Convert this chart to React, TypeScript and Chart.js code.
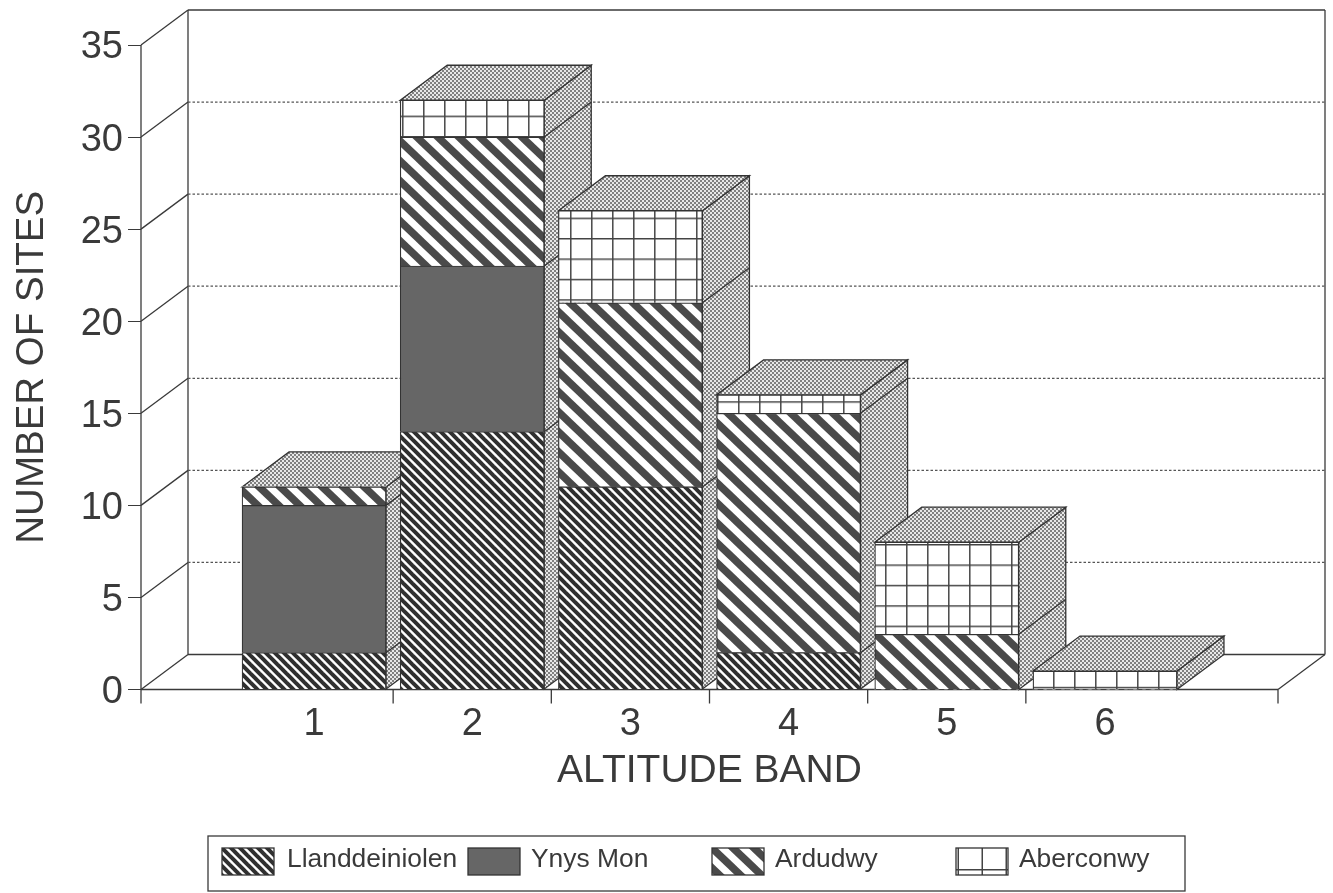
import React, { useEffect, useRef } from "react";
import { Chart, registerables } from "chart.js";

Chart.register(...registerables);

const bands = [1, 2, 3, 4, 5, 6];
const llanddeiniolen = [2, 14, 11, 2, 0, 0];
const ynysMon = [8, 9, 0, 0, 0, 0];
const ardudwy = [1, 7, 10, 13, 3, 0];
const aberconwy = [0, 2, 5, 1, 5, 1];
const seriesNames = ["Llanddeiniolen", "Ynys Mon", "Ardudwy", "Aberconwy"];
const bandEdges = [1.5, 2.5, 3.5, 4.5, 5.5];

const FONT = '"Liberation Sans", Arial, sans-serif';
const INK = "#3a3a3a";
const DX = 47;
const DY = 35;

function tile(w: number, h: number, draw: (c: CanvasRenderingContext2D) => void) {
  const cv = document.createElement("canvas");
  cv.width = w;
  cv.height = h;
  const c = cv.getContext("2d")!;
  c.fillStyle = "#fff";
  c.fillRect(0, 0, w, h);
  draw(c);
  return document.createElement("canvas").getContext("2d")!.createPattern(cv, "repeat")!;
}

function diagonal(w: number, h: number, lw: number, color: string) {
  return tile(w, h, (c) => {
    c.strokeStyle = color;
    c.lineWidth = lw;
    for (let k = -2; k <= 2; k++) {
      c.beginPath();
      c.moveTo(k * w - w, -h);
      c.lineTo(k * w + 2 * w, 2 * h);
      c.stroke();
    }
  });
}

function grid(w: number, h: number, ox: number, oy: number) {
  const p = tile(w, h, (c) => {
    c.fillStyle = "#444";
    c.fillRect(ox, 0, 1.5, h);
    c.fillRect(0, oy, w, 1.5);
  });
  p.setTransform(new DOMMatrix().scale(1, 20.4 / 21));
  return p;
}

function stipple() {
  return tile(4, 4, (c) => {
    c.fillStyle = "#e8e8e8";
    c.fillRect(0, 0, 4, 4);
    c.fillStyle = "#808080";
    c.fillRect(0, 0, 2, 2);
    c.fillRect(2, 2, 2, 2);
  });
}

export default function App() {
  const ref = useRef<HTMLCanvasElement>(null);

  useEffect(() => {
    const dense = diagonal(9, 9, 4, "#303030");
    const wide = diagonal(21, 20, 7.5, "#4a4a4a");
    const cells = grid(21, 21, 3, 14);
    const solid = "#666666";
    const dots = stipple();
    const fills: any[] = [dense, solid, wide, cells];

    const frame = {
      id: "frame3d",
      beforeDatasetsDraw(chart: any) {
        const { ctx, scales } = chart;
        const x = scales.x;
        const y = scales.y;
        const L = x.left;
        const R = x.right;
        const B = y.bottom;
        const T = y.top;
        ctx.save();
        ctx.strokeStyle = INK;
        ctx.lineWidth = 1.3;
        const seg = (a: number, b: number, c: number, d: number) => {
          ctx.beginPath();
          ctx.moveTo(a, b);
          ctx.lineTo(c, d);
          ctx.stroke();
        };
        seg(L, T, L, B);
        seg(L + DX, T - DY, L + DX, B - DY);
        seg(R + DX, T - DY, R + DX, B - DY);
        seg(L + DX, T - DY, R + DX, T - DY);
        seg(L + DX, B - DY, R + DX, B - DY);
        seg(L, B, R, B);
        seg(R, B, R + DX, B - DY);
        [x.min, ...bandEdges, x.max].forEach((v) => {
          const px = x.getPixelForValue(v);
          seg(px, B, px, B + 14);
        });
        y.ticks.forEach((t: any) => {
          const py = y.getPixelForValue(t.value);
          seg(L, py, L + DX, py - DY);
          if (t.value > 0 && t.value < 35) {
            ctx.save();
            ctx.setLineDash([2.5, 2]);
            ctx.strokeStyle = "#555";
            seg(L + DX, py - DY, R + DX, py - DY);
            ctx.restore();
          }
        });
        const metas = chart.getSortedVisibleDatasetMetas();
        bands.forEach((_, i) => {
          const els = metas.map((m: any) => m.data[i]);
          const vals = metas.map((m: any) => chart.data.datasets[m.index].data[i].y);
          const base = els[0].base;
          let top = base;
          els.forEach((e: any, k: number) => {
            if (vals[k] > 0) top = Math.min(top, e.y);
          });
          const half = els[0].width / 2;
          const xl = els[0].x - half;
          const xr = els[0].x + half;
          ctx.fillStyle = dots;
          ctx.strokeStyle = "#333";
          ctx.beginPath();
          ctx.moveTo(xr, base);
          ctx.lineTo(xr + DX, base - DY);
          ctx.lineTo(xr + DX, top - DY);
          ctx.lineTo(xr, top);
          ctx.closePath();
          ctx.fill();
          ctx.stroke();
          ctx.beginPath();
          ctx.moveTo(xl, top);
          ctx.lineTo(xl + DX, top - DY);
          ctx.lineTo(xr + DX, top - DY);
          ctx.lineTo(xr, top);
          ctx.closePath();
          ctx.fill();
          ctx.stroke();
          els.forEach((e: any, k: number) => {
            if (vals[k] > 0 && e.y > top) seg(xr, e.y, xr + DX, e.y - DY);
          });
        });
        ctx.restore();
      },
      afterDraw(chart: any) {
        const { ctx } = chart;
        ctx.save();
        ctx.strokeStyle = INK;
        ctx.lineWidth = 1.3;
        ctx.strokeRect(208, 836, 977, 55);
        ctx.font = `26.4px ${FONT}`;
        ctx.textBaseline = "middle";
        ctx.textAlign = "left";
        const swatches = [222, 468, 712, 956];
        const legendCells = tile(24, 24, (c) => {
          c.fillStyle = "#444";
          c.fillRect(1.5, 0, 1.5, 24);
          c.fillRect(0, 21, 24, 1.5);
        });
        seriesNames.forEach((name, i) => {
          const sx = swatches[i];
          ctx.save();
          ctx.translate(sx, 848);
          ctx.fillStyle = i === 3 ? legendCells : fills[i];
          ctx.fillRect(0, 0, 52, 27);
          ctx.strokeStyle = "#333";
          ctx.strokeRect(0, 0, 52, 27);
          ctx.restore();
          ctx.fillStyle = INK;
          ctx.fillText(name, sx + (i === 0 ? 65 : 63), 860);
        });
        ctx.restore();
      },
    };

    const seriesValues = [llanddeiniolen, ynysMon, ardudwy, aberconwy];
    const chart = new Chart(ref.current!, {
      type: "bar",
      data: {
        datasets: seriesNames.map((label, s) => ({
          label,
          data: bands.map((b, i) => ({ x: b, y: seriesValues[s][i] })),
          backgroundColor: fills[s],
          borderColor: "#333",
          borderWidth: (c: any) => (c.raw && c.raw.y > 0 ? 1.2 : 0),
          barThickness: 144,
          grouped: false,
        })),
      } as any,
      plugins: [frame],
      options: {
        animation: false,
        responsive: false,
        maintainAspectRatio: false,
        layout: { autoPadding: false, padding: { left: 0, top: 45, right: 55, bottom: 0 } },
        plugins: { legend: { display: false }, tooltip: { enabled: false } },
        scales: {
          x: {
            type: "linear",
            stacked: true,
            offset: false,
            min: -0.094,
            max: 7.094,
            grid: { display: false },
            border: { display: false },
            afterFit: (s: any) => {
              s.height = 203.5;
            },
            ticks: {
              stepSize: 1,
              includeBounds: false,
              maxRotation: 0,
              padding: 4,
              color: INK,
              font: { family: FONT, size: 38 },
              callback: (v: any) => (bands.includes(v) ? String(v) : ""),
            },
            title: {
              display: true,
              text: "ALTITUDE BAND",
              color: INK,
              font: { family: FONT, size: 39 },
              padding: { top: 0, bottom: 98 },
            },
          },
          y: {
            stacked: true,
            min: 0,
            max: 35,
            grid: { drawOnChartArea: false, drawTicks: true, tickLength: 13, color: INK },
            border: { display: false },
            afterFit: (s: any) => {
              s.width = 141;
            },
            ticks: {
              stepSize: 5,
              padding: 5,
              labelOffset: 3,
              color: INK,
              font: { family: FONT, size: 38 },
            },
            title: {
              display: true,
              text: "NUMBER OF SITES",
              color: INK,
              font: { family: FONT, size: 38.5 },
              padding: { top: 9, bottom: 0 },
            },
          },
        },
      } as any,
    });
    return () => chart.destroy();
  }, []);

  return (
    <div style={{ position: "absolute", left: 0, top: 0, width: 1333, height: 893, background: "#fff" }}>
      <canvas ref={ref} width={1333} height={893} style={{ display: "block" }} />
    </div>
  );
}
